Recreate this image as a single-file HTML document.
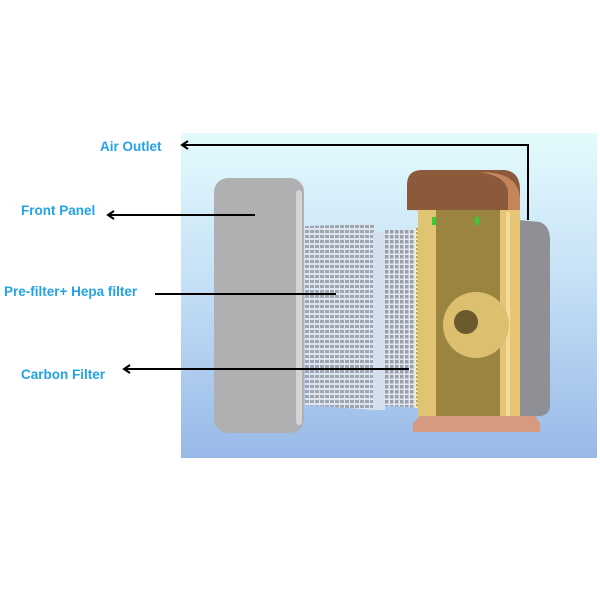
<!DOCTYPE html>
<html><head><style>
body{margin:0;width:600px;height:600px;background:#fff;position:relative;overflow:hidden;font-family:"Liberation Sans",sans-serif}
.l{position:absolute;color:#22a3e3;font-weight:bold;font-size:13.5px;white-space:nowrap}
</style></head><body>
<div style="position:absolute;left:181px;top:133px;width:416px;height:325px;background:linear-gradient(#e4fbfd,#c6e0f6 45%,#98b9e8)"></div>
<svg width="600" height="600" style="position:absolute;left:0;top:0">
<defs>
<pattern id="g" width="5" height="5" patternUnits="userSpaceOnUse"><rect width="5" height="5" fill="#dfe5ee"/><rect width="4" height="3" fill="#9ea6b2"/></pattern>
<pattern id="c" width="5" height="5" patternUnits="userSpaceOnUse"><rect width="5" height="5" fill="#e4e8ee"/><rect width="3.5" height="3.5" fill="#98a0ac"/></pattern>
<pattern id="y" width="4" height="4" patternUnits="userSpaceOnUse"><rect width="4" height="4" fill="#f8f0c0"/><rect width="2.5" height="2.5" fill="#c8a848"/></pattern>
</defs>
<polygon points="305,226 375,224 375,410 305,405" fill="url(#g)"/>
<rect x="373" y="232" width="12" height="178" fill="#d4e0ec"/>
<polygon points="385,230 432,228 432,408 385,406" fill="url(#c)"/>
<rect x="415" y="228" width="18" height="180" fill="url(#y)"/>
<rect x="214" y="178" width="90" height="255" rx="14" fill="#b0b0b2"/>
<rect x="296" y="190" width="6" height="235" rx="3" fill="#d4d4d6"/>
<path d="M518 220 L540 222 Q550 226 550 240 L550 405 Q550 415 540 416 L518 418Z" fill="#8e9096"/>
<path d="M407 210 L407 185 Q407 170 422 170 L505 170 Q520 172 520 190 L520 212Z" fill="#8a5a3a"/>
<path d="M480 172 Q520 172 520 200 L520 212 L508 212 L508 190 Q505 176 480 172Z" fill="#c4855a"/>
<rect x="418" y="210" width="102" height="208" fill="#9a8440"/>
<rect x="418" y="210" width="18" height="208" fill="#e0c474"/>
<rect x="500" y="210" width="20" height="208" fill="#e6c676"/>
<rect x="506" y="212" width="4" height="204" fill="#f4dc96"/>
<circle cx="476" cy="325" r="33" fill="#dcc070"/>
<circle cx="466" cy="322" r="12" fill="#6a5a2e"/>
<rect x="432" y="217" width="4" height="8" fill="#3c3"/><rect x="475" y="217" width="4" height="8" fill="#3c3"/>
<polygon points="413,423 420,416 535,416 540,423 540,432 413,432" fill="#d59a80"/>
<g stroke="#000" stroke-width="2" fill="none">
<path d="M183 145 L528 145 L528 220"/><path d="M188 141 L182 145 L188 149"/>
<path d="M108 215 L255 215"/><path d="M114 211 L108 215 L114 219"/>
<path d="M155 294 L336 294"/>
<path d="M124 369 L409 369"/><path d="M130 365 L124 369 L130 373"/>
</g>
</svg>
<div class="l" style="left:100px;top:139px">Air Outlet</div>
<div class="l" style="left:21px;top:203px">Front Panel</div>
<div class="l" style="left:4px;top:284px">Pre-filter+ Hepa filter</div>
<div class="l" style="left:21px;top:367px">Carbon Filter</div>
</body></html>
